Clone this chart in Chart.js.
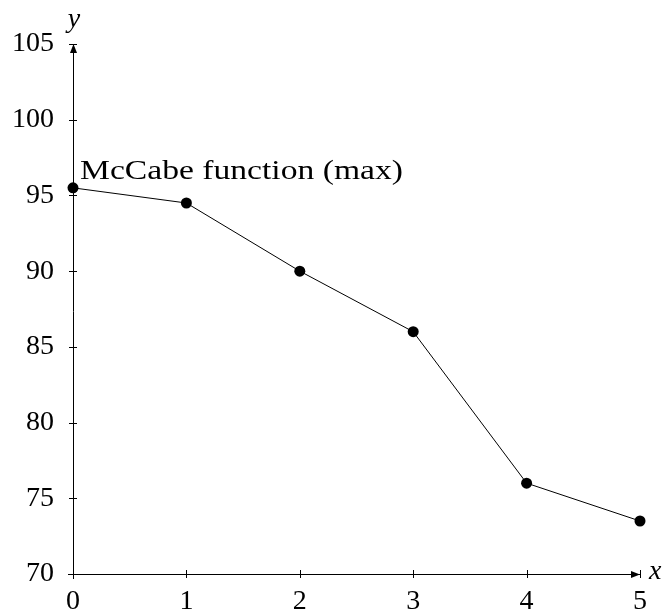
<!DOCTYPE html>
<html>
<head>
<meta charset="utf-8">
<script src="https://cdn.jsdelivr.net/npm/chart.js@4/dist/chart.umd.min.js"></script>
<style>
  html, body { margin: 0; padding: 0; background: #fff; }
  #wrap { width: 670px; height: 613px; }
</style>
</head>
<body>
<div id="wrap"><canvas id="myChart" width="670" height="613"></canvas></div>
<script>
// data
var xValues = [0, 1, 2, 3, 4, 5];
var yValues = [95.5, 94.5, 90, 86, 76, 73.5];
var xTicks = [0, 1, 2, 3, 4, 5];
var yTicks = [70, 75, 80, 85, 90, 95, 100, 105];
var seriesName = 'McCabe function (max)';

var serif = '"Liberation Serif", "DejaVu Serif", serif';

var points = xValues.map(function(x, i) {
    return { x: x, y: yValues[i] };
});

// draws the axis lines, crossing tick marks, arrow heads, axis names and the series label
var axesPlugin = {
    id: 'axesPlugin',
    afterDraw: function(chart) {
        var ctx = chart.ctx;
        var xs = chart.scales.x;
        var ys = chart.scales.y;
        var x0 = xs.getPixelForValue(0);
        var x1 = xs.getPixelForValue(5);
        var y0 = ys.getPixelForValue(70);
        var y1 = ys.getPixelForValue(105);

        ctx.save();
        ctx.strokeStyle = '#000';
        ctx.fillStyle = '#000';
        ctx.lineWidth = 1;

        // axis lines
        ctx.beginPath();
        ctx.moveTo(x0 - 5, y0 + 0.5);
        ctx.lineTo(x1, y0 + 0.5);
        ctx.moveTo(x0 + 0.5, y0 + 5);
        ctx.lineTo(x0 + 0.5, y1);
        ctx.stroke();

        // ticks crossing the axes
        ctx.beginPath();
        xTicks.forEach(function(t) {
            var px = Math.round(xs.getPixelForValue(t)) + 0.5;
            ctx.moveTo(px, y0 - 4);
            ctx.lineTo(px, y0 + 4);
        });
        yTicks.forEach(function(t) {
            var py = Math.round(ys.getPixelForValue(t)) + 0.5;
            ctx.moveTo(x0 - 4, py);
            ctx.lineTo(x0 + 4, py);
        });
        ctx.stroke();

        // arrow heads
        ctx.beginPath();
        ctx.moveTo(x1, y0 + 0.5);
        ctx.lineTo(x1 - 9, y0 + 0.5 - 3.5);
        ctx.lineTo(x1 - 9, y0 + 0.5 + 3.5);
        ctx.closePath();
        ctx.fill();
        ctx.beginPath();
        ctx.moveTo(x0 + 0.5, y1);
        ctx.lineTo(x0 + 0.5 - 3.5, y1 + 9);
        ctx.lineTo(x0 + 0.5 + 3.5, y1 + 9);
        ctx.closePath();
        ctx.fill();

        // axis names
        ctx.font = 'italic 28px ' + serif;
        ctx.textAlign = 'left';
        ctx.textBaseline = 'middle';
        ctx.fillText('x', x1 + 9, y0 - 2);
        ctx.textAlign = 'center';
        ctx.textBaseline = 'alphabetic';
        ctx.fillText('y', x0 + 1, y1 - 17);

        // series label next to the first point, widened to the reference's wide serif
        var px0 = xs.getPixelForValue(xValues[0]);
        var py0 = ys.getPixelForValue(yValues[0]);
        ctx.font = '28px ' + serif;
        ctx.textAlign = 'left';
        var w = ctx.measureText(seriesName).width;
        ctx.translate(px0 + 7, py0 - 9);
        ctx.scale(323 / w, 1);
        ctx.fillText(seriesName, 0, 0);
        ctx.restore();
    }
};

var ctx = document.getElementById('myChart');

var myChart = new Chart(ctx, {
    type: 'line',
    data: {
        datasets: [{
            label: seriesName,
            data: points,
            borderColor: '#000',
            borderWidth: 1,
            backgroundColor: '#000',
            pointRadius: 5.5,
            pointBackgroundColor: '#000',
            pointBorderWidth: 0,
            tension: 0,
            fill: false,
            clip: false
        }]
    },
    options: {
        responsive: false,
        animation: false,
        layout: { padding: { left: 0, right: 30, top: 44, bottom: 0 } },
        plugins: {
            legend: { display: false },
            tooltip: { enabled: false }
        },
        scales: {
            x: {
                type: 'linear',
                min: 0,
                max: 5,
                border: { display: false },
                grid: { display: false },
                afterBuildTicks: function(scale) {
                    scale.ticks = xTicks.map(function(v) { return { value: v }; });
                },
                afterFit: function(scale) { scale.height = 39; },
                ticks: {
                    color: '#000',
                    padding: 3,
                    maxRotation: 0,
                    font: { family: serif, size: 28 }
                }
            },
            y: {
                min: 70,
                max: 105,
                border: { display: false },
                grid: { display: false },
                afterBuildTicks: function(scale) {
                    scale.ticks = yTicks.map(function(v) { return { value: v }; });
                },
                afterFit: function(scale) { scale.width = 73; },
                ticks: {
                    color: '#000',
                    padding: 11,
                    font: { family: serif, size: 28 }
                }
            }
        }
    },
    plugins: [axesPlugin]
});
</script>
</body>
</html>
